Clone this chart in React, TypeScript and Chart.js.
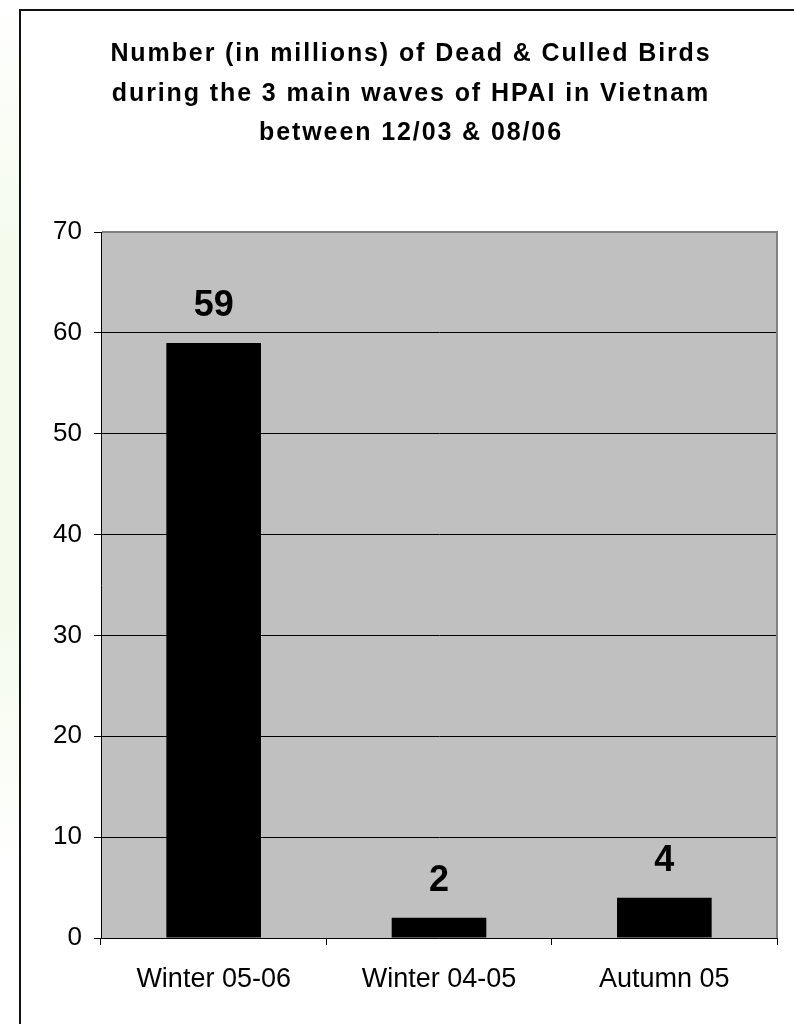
import React, { useEffect, useRef } from "react";
import { Chart, registerables } from "chart.js";

Chart.register(...registerables);

const categories = ["Winter 05-06", "Winter 04-05", "Autumn 05"];
const birdsMillions = [59, 2, 4];
const yMin = 0;
const yMax = 70;
const yStep = 10;
const titleLines = [
  "Number (in millions) of Dead & Culled Birds",
  "during the 3 main waves of HPAI in Vietnam",
  "between 12/03 & 08/06",
];

const FONT = "'Liberation Sans', Arial, Helvetica, sans-serif";

export default function App() {
  const canvasRef = useRef<HTMLCanvasElement | null>(null);

  useEffect(() => {
    const canvas = canvasRef.current;
    if (!canvas) return;

    const bgPlugin = {
      id: "plotBg",
      beforeDraw(chart: any) {
        const { ctx, chartArea } = chart;
        ctx.save();
        ctx.fillStyle = "#C0C0C0";
        ctx.fillRect(chartArea.left, chartArea.top, chartArea.right - chartArea.left, chartArea.bottom - chartArea.top);
        ctx.restore();
      },
    };

    const framePlugin = {
      id: "plotFrame",
      afterDatasetsDraw(chart: any) {
        const { ctx, chartArea } = chart;
        ctx.save();
        ctx.strokeStyle = "#808080";
        ctx.lineWidth = 2;
        ctx.beginPath();
        ctx.moveTo(chartArea.left + 1, chartArea.top);
        ctx.lineTo(chartArea.right, chartArea.top);
        ctx.lineTo(chartArea.right, chartArea.bottom);
        ctx.stroke();
        ctx.restore();
      },
    };

    const labelPlugin = {
      id: "valueLabels",
      afterDatasetsDraw(chart: any) {
        const { ctx } = chart;
        const meta = chart.getDatasetMeta(0);
        ctx.save();
        ctx.fillStyle = "#000";
        ctx.font = `bold 36px ${FONT}`;
        ctx.textAlign = "center";
        ctx.textBaseline = "alphabetic";
        meta.data.forEach((bar: any, i: number) => {
          ctx.fillText(String(birdsMillions[i]), bar.x, bar.y - 27);
        });
        ctx.restore();
      },
    };

    const titlePlugin = {
      id: "spacedTitle",
      afterDraw(chart: any) {
        const { ctx } = chart;
        ctx.save();
        ctx.fillStyle = "#000";
        ctx.font = `bold 25px ${FONT}`;
        (ctx as any).letterSpacing = "1.9px";
        ctx.textAlign = "center";
        ctx.textBaseline = "alphabetic";
        const baselines = [61, 101, 140];
        titleLines.forEach((line, i) => {
          ctx.fillText(line, 411, baselines[i]);
        });
        ctx.restore();
      },
    };

    const chart = new Chart(canvas, {
      type: "bar",
      data: {
        labels: categories,
        datasets: [
          {
            data: birdsMillions,
            backgroundColor: "#000000",
            borderWidth: 0,
            barPercentage: 0.42,
            categoryPercentage: 1,
          },
        ],
      },
      options: {
        animation: false,
        responsive: true,
        maintainAspectRatio: false,
        layout: { padding: { top: 232, right: 17, left: 0, bottom: 0 } },
        plugins: {
          legend: { display: false },
          tooltip: { enabled: false },
          title: { display: false },
        },
        scales: {
          x: {
            type: "category",
            offset: true,
            grid: {
              offset: true,
              drawOnChartArea: false,
              drawTicks: true,
              tickLength: 7,
              color: "#000",
              tickColor: "#000",
              lineWidth: 1,
            },
            border: { color: "#000", width: 1 },
            ticks: {
              color: "#000",
              font: { family: FONT, size: 27 },
              padding: 18,
              maxRotation: 0,
            },
            afterFit(scale: any) {
              scale.height = 86;
            },
          },
          y: {
            min: yMin,
            max: yMax,
            ticks: {
              stepSize: yStep,
              color: "#000",
              font: { family: FONT, size: 26 },
              padding: 12,
            },
            grid: {
              color: (c: any) => (c.tick && c.tick.value === yMax ? "rgba(0,0,0,0)" : "#000"),
              tickColor: "#000",
              tickLength: 7,
              lineWidth: 1,
            },
            border: { color: "#000", width: 1 },
            afterFit(scale: any) {
              scale.width = 101;
            },
          },
        },
      },
      plugins: [bgPlugin, framePlugin, labelPlugin, titlePlugin],
    });

    return () => {
      chart.destroy();
    };
  }, []);

  return (
    <div
      style={{
        position: "absolute",
        left: 0,
        top: 0,
        width: 794,
        height: 1024,
        overflow: "hidden",
        background: "#FFFFFF",
      }}
    >
      <div
        style={{
          position: "absolute",
          left: 0,
          top: 0,
          width: 20,
          height: 1024,
          background: "linear-gradient(to bottom, #FFFFFF 0%, #F4FBEC 25%, #F4FBEC 60%, #FFFFFF 85%)",
        }}
      />
      <div
        style={{
          position: "absolute",
          left: 19,
          top: 9,
          width: 900,
          height: 1200,
          border: "2px solid #111",
          boxSizing: "border-box",
        }}
      />
      <div style={{ position: "absolute", left: 0, top: 0, width: 794, height: 1024 }}>
        <canvas ref={canvasRef} />
      </div>
    </div>
  );
}
